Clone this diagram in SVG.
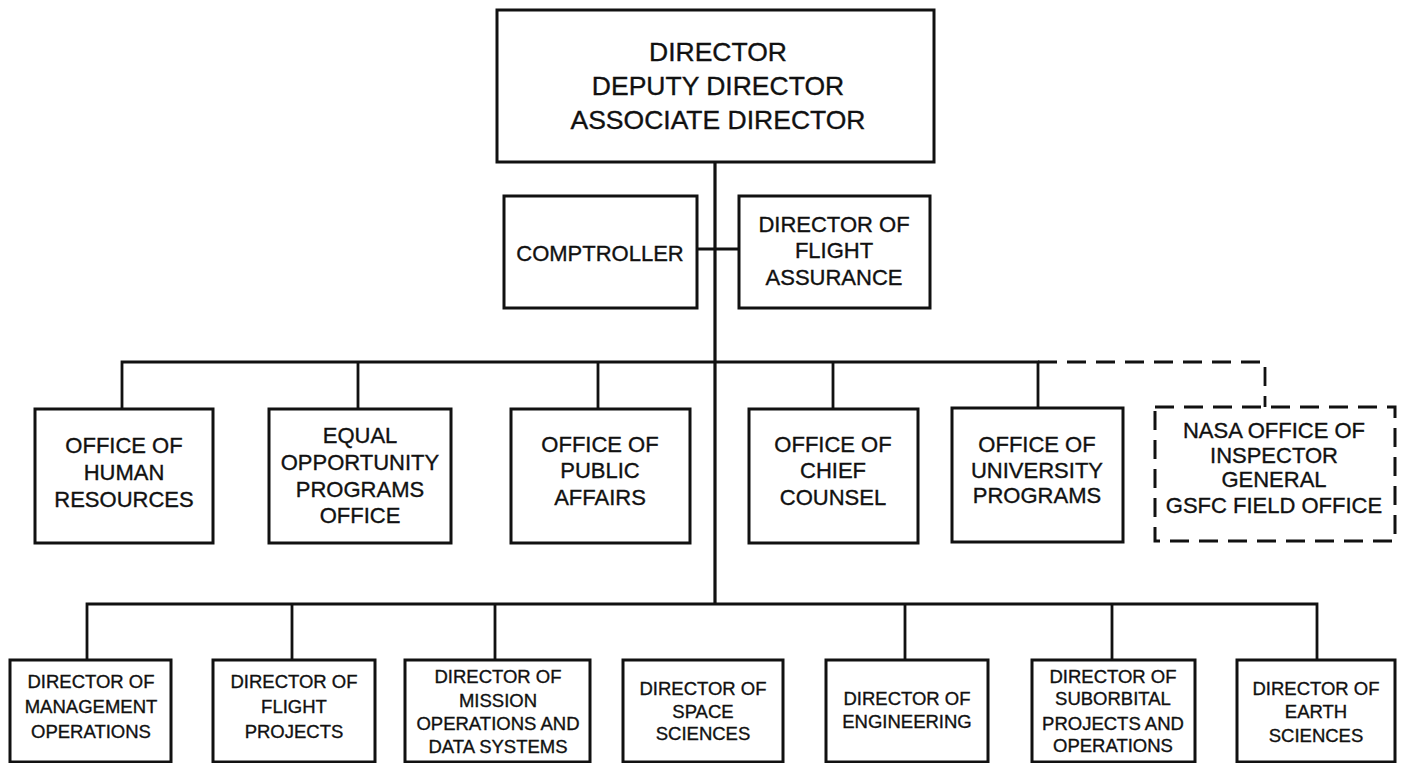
<svg xmlns="http://www.w3.org/2000/svg" width="1402" height="763" viewBox="0 0 1402 763">
  <style>
    .box { fill: #fff; stroke: #111; stroke-width: 3; }
    .dbox { fill: #fff; stroke: #111; stroke-width: 3; stroke-dasharray: 19 10; }
    .ln { fill: none; stroke: #111; stroke-width: 2.8; }
    .main { fill: none; stroke: #111; stroke-width: 3.2; }
    .dash { fill: none; stroke: #111; stroke-width: 2.8; stroke-dasharray: 19 10; }
    text { font-family: "Liberation Sans", Arial, sans-serif; fill: #111; stroke: #111; stroke-width: 0.35; text-anchor: middle; }
    .t1 { font-size: 26.5px; }
    .t2 { font-size: 22px; }
    .t3 { font-size: 18.5px; }
  </style>

  <!-- connectors -->
  <g id="connectors">
    <path class="main" d="M715 162 V604"/>
    <path class="ln" d="M697 249 H739"/>
    <path class="ln" d="M122 409 V362 H1038 V409"/>
    <path class="ln" d="M358 362 V409 M598 362 V409 M833 362 V409"/>
    <path class="dash" d="M1038 362 H1265 V407"/>
    <path class="ln" d="M87 660 V604 H1317 V660"/>
    <path class="ln" d="M292 604 V660 M495 604 V660 M905 604 V660 M1112 604 V660"/>
  </g>

  <!-- top level -->
  <g id="director">
    <rect class="box" x="497" y="10" width="437" height="152"/>
    <text class="t1" x="718" y="61">DIRECTOR</text>
    <text class="t1" x="718" y="95">DEPUTY DIRECTOR</text>
    <text class="t1" x="718" y="129">ASSOCIATE DIRECTOR</text>
  </g>

  <!-- staff -->
  <g id="comptroller">
    <rect class="box" x="504" y="196" width="193" height="112"/>
    <text class="t2" x="600" y="261">COMPTROLLER</text>
  </g>
  <g id="flight-assurance">
    <rect class="box" x="739" y="196" width="191" height="112"/>
    <text class="t2" x="834" y="232">DIRECTOR OF</text>
    <text class="t2" x="834" y="258">FLIGHT</text>
    <text class="t2" x="834" y="285">ASSURANCE</text>
  </g>

  <!-- offices -->
  <g id="human-resources">
    <rect class="box" x="35" y="409" width="178" height="134"/>
    <text class="t2" x="124" y="453">OFFICE OF</text>
    <text class="t2" x="124" y="480">HUMAN</text>
    <text class="t2" x="124" y="507">RESOURCES</text>
  </g>
  <g id="equal-opportunity">
    <rect class="box" x="269" y="409" width="182" height="134"/>
    <text class="t2" x="360" y="443">EQUAL</text>
    <text class="t2" x="360" y="470">OPPORTUNITY</text>
    <text class="t2" x="360" y="497">PROGRAMS</text>
    <text class="t2" x="360" y="523">OFFICE</text>
  </g>
  <g id="public-affairs">
    <rect class="box" x="511" y="409" width="179" height="134"/>
    <text class="t2" x="600" y="452">OFFICE OF</text>
    <text class="t2" x="600" y="478">PUBLIC</text>
    <text class="t2" x="600" y="505">AFFAIRS</text>
  </g>
  <g id="chief-counsel">
    <rect class="box" x="749" y="409" width="169" height="134"/>
    <text class="t2" x="833" y="452">OFFICE OF</text>
    <text class="t2" x="833" y="478">CHIEF</text>
    <text class="t2" x="833" y="505">COUNSEL</text>
  </g>
  <g id="university-programs">
    <rect class="box" x="952" y="408" width="171" height="134"/>
    <text class="t2" x="1037" y="452">OFFICE OF</text>
    <text class="t2" x="1037" y="478">UNIVERSITY</text>
    <text class="t2" x="1037" y="503">PROGRAMS</text>
  </g>
  <g id="inspector-general">
    <rect class="dbox" x="1155" y="407" width="240" height="134"/>
    <text class="t2" x="1274" y="438">NASA OFFICE OF</text>
    <text class="t2" x="1274" y="463">INSPECTOR</text>
    <text class="t2" x="1274" y="487">GENERAL</text>
    <text class="t2" x="1274" y="513">GSFC FIELD OFFICE</text>
  </g>

  <!-- directorates -->
  <g id="management-operations">
    <rect class="box" x="10" y="660" width="161" height="102"/>
    <text class="t3" x="91" y="688">DIRECTOR OF</text>
    <text class="t3" x="91" y="713">MANAGEMENT</text>
    <text class="t3" x="91" y="738">OPERATIONS</text>
  </g>
  <g id="flight-projects">
    <rect class="box" x="213" y="660" width="162" height="102"/>
    <text class="t3" x="294" y="688">DIRECTOR OF</text>
    <text class="t3" x="294" y="713">FLIGHT</text>
    <text class="t3" x="294" y="738">PROJECTS</text>
  </g>
  <g id="mission-operations">
    <rect class="box" x="405" y="660" width="185" height="102"/>
    <text class="t3" x="498" y="683">DIRECTOR OF</text>
    <text class="t3" x="498" y="707">MISSION</text>
    <text class="t3" x="498" y="730">OPERATIONS AND</text>
    <text class="t3" x="498" y="753">DATA SYSTEMS</text>
  </g>
  <g id="space-sciences">
    <rect class="box" x="623" y="660" width="160" height="102"/>
    <text class="t3" x="703" y="695">DIRECTOR OF</text>
    <text class="t3" x="703" y="718">SPACE</text>
    <text class="t3" x="703" y="740">SCIENCES</text>
  </g>
  <g id="engineering">
    <rect class="box" x="826" y="660" width="162" height="102"/>
    <text class="t3" x="907" y="705">DIRECTOR OF</text>
    <text class="t3" x="907" y="728">ENGINEERING</text>
  </g>
  <g id="suborbital">
    <rect class="box" x="1032" y="660" width="163" height="102"/>
    <text class="t3" x="1113" y="683">DIRECTOR OF</text>
    <text class="t3" x="1113" y="705">SUBORBITAL</text>
    <text class="t3" x="1113" y="730">PROJECTS AND</text>
    <text class="t3" x="1113" y="752">OPERATIONS</text>
  </g>
  <g id="earth-sciences">
    <rect class="box" x="1237" y="660" width="158" height="102"/>
    <text class="t3" x="1316" y="695">DIRECTOR OF</text>
    <text class="t3" x="1316" y="718">EARTH</text>
    <text class="t3" x="1316" y="742">SCIENCES</text>
  </g>
</svg>
